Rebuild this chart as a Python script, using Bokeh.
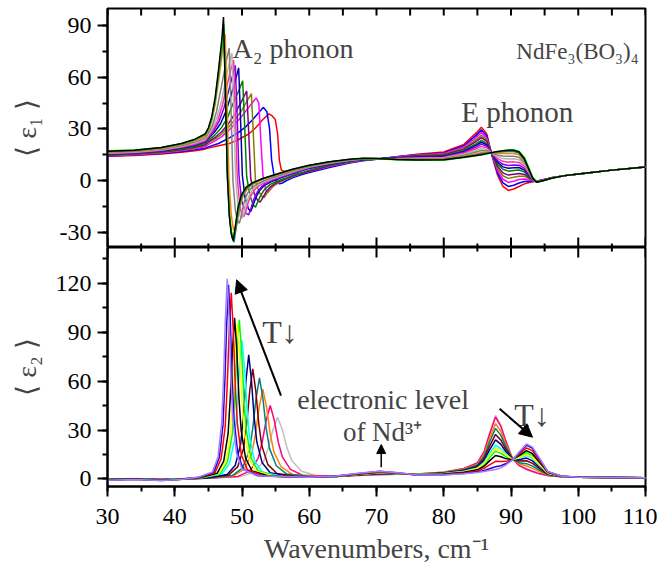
from bokeh.plotting import figure
from bokeh.layouts import column
from bokeh.models import (Range1d, SingleIntervalTicker, Label, Arrow, NormalHead,
                          CustomJSTickFormatter)
from bokeh.embed import file_html
from bokeh.resources import INLINE

FONT = "Liberation Serif"

# ================= axes / ticks =================
X_RANGE = (30, 110)
Y1_RANGE = (-39, 100)
Y2_RANGE = (-4.6, 141.8)
X_TICKS_MAJOR = [30, 40, 50, 60, 70, 80, 90, 100, 110]
X_TICKS_MINOR = [35, 45, 55, 65, 75, 85, 95, 105]

# ================= top panel: <eps1> =================
E1_X_LEFT = [30, 34, 38, 41, 43, 44.5]
E1_X_RIGHT = [60, 63, 66, 68, 70, 73, 76,
              80, 83, 84.8, 85.6, 86.4, 87.2, 88, 88.8, 89.6, 90.4, 91.2, 92, 92.6,
              93.2, 93.8, 94.6, 96, 98, 101, 105, 110]

e1_red_xm = [45.0, 46.5, 48.0, 49.5, 51.0, 52.0, 53.0, 54.0, 54.5, 54.95, 55.3, 55.55, 55.85, 56.3, 57.0, 58.5]
e1_red_y = [14.0, 14.5, 15.4, 16.4, 17.3, 18.2,
            18.8, 20.2, 21.3, 23.8, 27, 30.5, 35, 38.7, 37.5, 35.5, 27, 12, 6, 5.2, 5.8, 7.0,
            8.0, 9.6, 11.0, 11.8, 12.3, 13.8, 15.2,
            16.5, 21, 27.5, 31, 27, 14, 3, -3.5, -5.8, -5, -3.5, -2, -1.3, -0.8, -0.3, 0.3, 1.5, 2.8, 4.2, 6, 7.8]

e1_blue_xm = [45.0, 46.5, 48.0, 49.5, 50.5, 51.5, 52.5, 53.2, 53.7, 54.1, 54.4, 54.8, 55.2, 55.6, 56.0, 56.7, 57.5, 58.7]
e1_blue_y = [14.2, 14.8, 15.7, 16.8, 17.8, 18.8,
             19.5, 21.5, 24.5, 28, 31, 35, 39.5, 42.5, 40, 30, 12, 2, -1.2, -2, -1.5, 0, 1.5, 3.2,
             4.6, 7.5, 10.2, 11.5, 12.3, 13.8, 15.0,
             16.0, 20.2, 26.2, 29.4, 25.9, 14.2, 4.4, -1.4, -3.5, -2.8, -1.5, -0.6, -0.5, -0.6, -0.4, 0.2, 1.5, 2.8, 4.2, 6.0, 7.8]

e1_magenta_xm = [45.0, 46.0, 47.0, 48.0, 49.0, 50.0, 51.0, 51.6, 52.1, 52.5, 52.85, 53.15, 53.55, 53.9, 54.3, 54.8, 55.5, 56.5, 58.0, 59.0]
e1_magenta_y = [14.4, 15.0, 16.0, 17.2, 18.4, 19.6,
                21, 23, 25.5, 29, 33, 37.5, 42.5, 45.5, 48, 45, 20, 1, -5.5, -6.8, -4.8, -2.8, -1.0, 0.8, 3.0, 4.2,
                5.2, 8.1, 10.5, 11.7, 12.4, 13.7, 14.8,
                15.6, 19.5, 24.9, 27.8, 24.7, 14.4, 5.8, 0.7, -1.1, -0.5, 0.5, 0.9, 0.4, -0.3, -0.4, 0.2, 1.5, 2.8, 4.2, 6.0, 7.8]

e1_olive_xm = [45.0, 46.0, 47.0, 48.0, 49.0, 50.0, 50.8, 51.4, 51.65, 52.0, 52.5, 53.0, 53.3, 53.7, 54.2, 54.9, 55.8, 57.0, 58.5]
e1_olive_y = [14.6, 15.2, 16.3, 17.6, 18.9, 20.3,
              22, 24, 27, 31, 35.5, 41, 46.5, 50.5, 30, 0, -6.5, -9.5, -10, -7.5, -4.8, -2.5, -0.6, 1.5, 3.6,
              5.4, 8.4, 10.7, 11.8, 12.4, 13.5, 14.5,
              15.2, 18.8, 23.6, 26.2, 23.6, 14.7, 7.1, 2.7, 1.2, 1.8, 2.5, 2.4, 1.2, -0.1, -0.5, 0.1, 1.4, 2.8, 4.2, 6.0, 7.8]

e1_purple_xm = [45.0, 46.0, 47.0, 48.0, 48.9, 49.8, 50.7, 50.95, 51.3, 51.8, 52.3, 52.7, 53.1, 53.6, 54.2, 55.0, 56.0, 57.3, 58.5]
e1_purple_y = [14.8, 15.4, 16.5, 17.9, 19.3, 20.7,
               22.5, 25, 28.5, 33, 38.5, 45, 52, 32, 1, -7.5, -11.5, -12.6, -10, -6.5, -3.7, -1.5, 0.3, 2.2, 3.8,
               5.4, 8.6, 10.9, 11.9, 12.5, 13.4, 14.3,
               14.8, 18.2, 22.6, 24.9, 22.7, 14.8, 8.2, 4.4, 3.1, 3.6, 4.1, 3.5, 1.9, 0.1, -0.6, 0.1, 1.4, 2.8, 4.2, 6.0, 7.8]

e1_green_xm = [45.0, 46.0, 47.0, 47.9, 48.7, 49.5, 50.1, 50.35, 50.7, 51.2, 51.7, 52.0, 52.4, 52.8, 53.4, 54.2, 55.3, 56.6, 58.0, 59.2]
e1_green_y = [15.0, 15.6, 16.8, 18.3, 19.8, 21.4,
              23.5, 26.5, 31, 37, 45, 52, 58, 36, 2, -9, -14.5, -15.5, -12, -8.5, -5, -2.3, -0.3, 1.5, 3.6, 5.0,
              6.0, 9.0, 11.1, 12.0, 12.5, 13.2, 14.0,
              14.3, 17.4, 21.3, 23.3, 21.5, 15.1, 9.6, 6.5, 5.4, 5.8, 6.1, 5.0, 2.7, 0.3, -0.6, 0.0, 1.4, 2.8, 4.2, 6.0, 7.8]

e1_navy_xm = [45.0, 45.9, 46.8, 47.6, 48.4, 49.0, 49.5, 49.75, 50.05, 50.45, 50.95, 51.3, 51.65, 52.05, 52.6, 53.3, 54.3, 55.6, 57.2, 58.7]
e1_navy_y = [15.3, 15.9, 17.1, 18.8, 20.4, 22.2,
             24.5, 28, 33, 40, 50, 58, 65.5, 40, 3, -10, -16.5, -18, -14.5, -10, -6, -3, -0.8, 1.2, 3.4, 5.4,
             7.0, 9.5, 11.4, 12.2, 12.6, 13.0, 13.6,
             14.0, 16.9, 20.4, 22.2, 20.7, 15.2, 10.6, 7.9, 7.1, 7.4, 7.5, 6.0, 3.3, 0.5, -0.7, 0.0, 1.4, 2.8, 4.2, 6.0, 7.8]

e1_violet_xm = [45.0, 45.8, 46.6, 47.3, 48.0, 48.6, 49.0, 49.25, 49.55, 49.95, 50.55, 51.0, 51.35, 51.75, 52.3, 53.0, 54.0, 55.3, 57.0, 58.5]
e1_violet_y = [15.5, 16.1, 17.3, 19.1, 20.8, 22.7,
               25, 29, 34.5, 42, 52, 61, 67, 42, 3, -12, -19, -20, -16, -11, -6.5, -3.2, -0.8, 1.2, 3.5, 5.5,
               7.2, 9.7, 11.5, 12.3, 12.6, 12.9, 13.4,
               13.7, 16.4, 19.4, 21.1, 19.9, 15.4, 11.6, 9.4, 8.7, 9.0, 8.9, 7.0, 3.9, 0.6, -0.7, -0.1, 1.4, 2.8, 4.2, 6.0, 7.8]

e1_pink_xm = [45.0, 45.7, 46.4, 47.1, 47.7, 48.3, 48.75, 49.0, 49.3, 49.65, 49.95, 50.3, 50.6, 51.0, 51.5, 52.2, 53.2, 54.7, 56.5, 58.3]
e1_pink_y = [15.7, 16.3, 17.6, 19.4, 21.2, 23.1,
             25.5, 29.5, 35, 44, 54, 64, 70, 42, 2, -14, -19.5, -21, -17.5, -12, -7.5, -4, -1.5, 1.0, 3.3, 5.8,
             7.6, 10.0, 11.7, 12.4, 12.6, 12.7, 13.1,
             13.4, 15.8, 18.4, 19.8, 19.0, 15.5, 12.7, 11.1, 10.6, 10.8, 10.5, 8.2, 4.5, 0.8, -0.8, -0.1, 1.4, 2.8, 4.2, 6.0, 7.8]

e1_silver_xm = [45.0, 45.6, 46.3, 47.0, 47.6, 48.1, 48.5, 48.75, 49.05, 49.4, 49.7, 50.0, 50.3, 50.7, 51.2, 51.9, 52.9, 54.4, 56.3, 58.2]
e1_silver_y = [16.0, 16.6, 17.9, 19.8, 21.8, 23.9,
               26.5, 30.5, 37, 47, 59, 68, 74, 45, 2, -15, -20.5, -22, -18.5, -12.5, -7.5, -4, -1.5, 1.0, 3.4, 5.9,
               7.9, 10.2, 11.8, 12.5, 12.6, 12.5, 12.8,
               13.0, 15.2, 17.4, 18.5, 18.1, 15.7, 13.8, 12.7, 12.5, 12.6, 12.1, 9.3, 5.2, 1.0, -0.8, -0.2, 1.3, 2.8, 4.2, 6.0, 7.8]

e1_gray_xm = [45.0, 45.6, 46.2, 46.8, 47.4, 47.8, 48.1, 48.35, 48.65, 49.0, 49.3, 49.6, 49.9, 50.3, 50.8, 51.5, 52.5, 54.0, 56.0, 58.0]
e1_gray_y = [16.2, 16.8, 18.2, 20.2, 22.3, 24.6,
             27.5, 32, 40, 52, 64, 72, 77, 45, 0, -17, -23, -25, -20.5, -13, -7.5, -4, -1.6, 1.0, 3.5, 6.0,
             8.1, 10.4, 11.9, 12.6, 12.6, 12.4, 12.5,
             12.7, 14.6, 16.5, 17.4, 17.3, 15.9, 14.7, 14.2, 14.1, 14.1, 13.5, 10.3, 5.8, 1.2, -0.9, -0.2, 1.3, 2.8, 4.2, 6.0, 7.8]

e1_orange_xm = [45.0, 45.5, 46.0, 46.5, 47.0, 47.5, 47.75, 48.05, 48.4, 48.7, 49.0, 49.3, 49.7, 50.2, 50.9, 51.8, 53.2, 55.2, 57.6]
e1_orange_y = [16.5, 17.1, 18.6, 20.8, 23.0, 25.7,
               29, 34.5, 44, 57, 72, 85, 50, 2, -20, -28, -30, -24, -15, -8.5, -4.5, -1.8, 0.8, 3.3, 6.2,
               8.6, 10.7, 12.1, 12.7, 12.7, 12.3, 12.2,
               12.4, 14.1, 15.5, 16.3, 16.5, 16.0, 15.7, 15.6, 15.7, 15.7, 14.9, 11.3, 6.3, 1.3, -0.9, -0.3, 1.3, 2.8, 4.2, 6.0, 7.8]

e1_teal_xm = [45.0, 45.5, 46.0, 46.5, 47.0, 47.3, 47.55, 47.85, 48.2, 48.5, 48.8, 49.1, 49.5, 50.0, 50.7, 51.6, 53.0, 55.0, 57.5]
e1_teal_y = [16.8, 17.4, 19.0, 21.2, 23.6, 26.5,
             30, 36, 46, 61, 77, 88, 50, 0, -24, -33, -36, -28, -17, -9, -4.5, -1.7, 0.9, 3.4, 6.3,
             8.7, 10.8, 12.2, 12.8, 12.7, 12.2, 12.0,
             12.1, 13.7, 14.9, 15.5, 15.9, 16.1, 16.4, 16.7, 16.9, 16.8, 15.9, 12.1, 6.8, 1.4, -1.0, -0.3, 1.3, 2.8, 4.2, 6.0, 7.8]

e1_lime_xm = [45.0, 45.5, 46.0, 46.5, 47.0, 47.3, 47.55, 47.85, 48.15, 48.45, 48.75, 49.05, 49.45, 49.95, 50.6, 51.5, 53.0, 55.0, 57.5]
e1_lime_y = [17.2, 17.7, 19.1, 21.3, 23.7, 26.7,
             30, 36, 46.5, 62, 79, 91, 52, 3, -20, -30, -33, -26, -15.5, -8.5, -4.2, -1.6, 1.0, 3.5, 6.4,
             8.7, 10.8, 12.2, 12.7, 12.6, 12.1, 11.8,
             11.8, 13.3, 14.3, 14.9, 15.5, 16.1, 16.7, 17.3, 17.7, 17.8, 17.0, 13.5, 8.0, 2.2, -0.8, -0.4, 1.3, 2.8, 4.2, 6.0, 7.8]

e1_black_xm = [45.0, 45.5, 46.0, 46.5, 47.0, 47.25, 47.5, 47.8, 48.1, 48.4, 48.7, 49.0, 49.4, 49.9, 50.6, 51.5, 53.0, 55.0, 57.5]
e1_black_y = [17.0, 17.6, 19.2, 21.5, 24.0, 27.0,
              30.5, 37, 48, 64, 82, 95, 55, 5, -20, -31, -35, -27, -16, -8.5, -4, -1.5, 1.0, 3.5, 6.5,
              8.8, 10.9, 12.3, 12.9, 12.7, 12.2, 11.9,
              12, 13.5, 14.5, 15, 15.6, 16.2, 16.8, 17.3, 17.6, 17.5, 16.5, 12.5, 7, 1.5, -1, -0.3, 1.3, 2.8, 4.2, 6, 7.8]

E1_CURVES = [
    ("#ff0000", e1_red_xm, e1_red_y),
    ("#0000ff", e1_blue_xm, e1_blue_y),
    ("#ff00ff", e1_magenta_xm, e1_magenta_y),
    ("#808000", e1_olive_xm, e1_olive_y),
    ("#800080", e1_purple_xm, e1_purple_y),
    ("#008000", e1_green_xm, e1_green_y),
    ("#0000a0", e1_navy_xm, e1_navy_y),
    ("#8000ff", e1_violet_xm, e1_violet_y),
    ("#ff3399", e1_pink_xm, e1_pink_y),
    ("#b4b4b4", e1_silver_xm, e1_silver_y),
    ("#808080", e1_gray_xm, e1_gray_y),
    ("#ff8000", e1_orange_xm, e1_orange_y),
    ("#008080", e1_teal_xm, e1_teal_y),
    ("#00ee00", e1_lime_xm, e1_lime_y),
    ("#000000", e1_black_xm, e1_black_y),
]

# ================= bottom panel: <eps2> =================
E2_X_LEFT = [30, 34, 38, 41]
E2_X_RIGHT = [67, 70.5, 73.5, 76, 80, 83, 85, 86, 86.8, 87.7, 88.5, 89.2, 90.2, 91.2,
              92.3, 93.2, 94.2, 95.5, 97.5, 100, 110]

e2_gray_xm = [44.1, 49.7, 51.8, 53.2, 53.9, 54.6, 55.3, 56.0, 56.7, 57.4, 58.8, 60.9, 66.5]
e2_gray_y = [-0.1, 0.3, -0.1, 0.2,
             0.3, 1.3, 4.2, 10.6, 18.9, 30.2, 37.8, 30.2, 18.9, 11.3, 4.9, 2.1, 2.0,
             2.1, 2.6, 2.9,
             3.0, 4.3, 6.5, 10.0, 17.0, 28.0, 38.9, 33.0, 24.0, 12.5, 8.0, 5.6, 4.2, 3.0, 2.0, 1.3, 1.0, 0.8]

e2_pink_xm = [44.6, 49.4, 51.2, 52.4, 53.0, 53.6, 54.2, 54.8, 55.4, 56.0, 57.2, 59.0, 63.8]
e2_pink_y = [-0.2, 0.2, -0.2, 0.2,
             0.4, 1.6, 5.0, 12.6, 22.5, 36, 45, 36, 22.5, 13.5, 5.9, 2.3, 1.7,
             2.2, 2.8, 2.9,
             3.0, 4.2, 6.4, 9.8, 16.6, 27.3, 37.9, 32.2, 23.5, 12.5, 8.3, 6.1, 4.7, 3.3, 2.1, 1.3, 1.0, 0.8]

e2_orange_xm = [44.3, 48.7, 50.35, 51.45, 52.0, 52.55, 53.1, 53.65, 54.2, 54.75, 55.85, 57.5, 61.9, 64]
e2_orange_y = [-0.2, 0.2, -0.3, 0.1,
               0.4, 1.9, 6.1, 15.4, 27.5, 44, 55, 44, 27.5, 16.5, 7.2, 2.8, 1.4, 1.6,
               2.3, 3.0, 2.9,
               2.9, 4.0, 6.0, 9.1, 15.1, 24.6, 33.9, 29.1, 21.7, 12.4, 9.3, 8.0, 6.5, 4.5, 2.4, 1.4, 1.0, 0.8]

e2_teal_xm = [44.6, 48.6, 50.1, 51.1, 51.6, 52.1, 52.6, 53.1, 53.6, 54.1, 55.1, 56.6, 60.6, 64]
e2_teal_y = [-0.3, 0.1, -0.3, 0.1,
             0.5, 2.2, 6.8, 17.4, 31, 49.6, 62, 49.6, 31, 18.6, 8.1, 3.1, 1.3, 1.6,
             2.4, 3.1, 3.0,
             2.9, 3.9, 5.7, 8.6, 14.0, 22.5, 31.0, 26.7, 20.3, 12.3, 10.0, 9.4, 7.9, 5.4, 2.6, 1.4, 1.0, 0.8]

e2_maroon_xm = [44.4, 48.0, 49.35, 50.25, 50.7, 51.15, 51.6, 52.05, 52.5, 52.95, 53.85, 55.2, 58.8, 64]
e2_maroon_y = [-0.3, 0.1, -0.4, 0.1,
               0.5, 2.4, 7.4, 18.9, 33.8, 54, 67.5, 54, 33.8, 20.3, 8.8, 3.4, 1.2, 1.6,
               2.5, 3.3, 3.0,
               2.8, 3.7, 5.3, 7.9, 12.7, 20.0, 27.3, 23.8, 18.6, 12.2, 11.0, 11.2, 9.6, 6.5, 2.9, 1.5, 1.0, 0.8]

e2_navy_xm = [44.6, 47.8, 49.0, 49.8, 50.2, 50.6, 51.0, 51.4, 51.8, 52.2, 53.0, 54.2, 57.4, 60, 64]
e2_navy_y = [-0.4, 0.0, -0.5, 0.0,
             0.6, 2.7, 8.4, 21.3, 38, 60.8, 76, 60.8, 38, 22.8, 9.9, 3.8, 1.3, 1.1, 1.6,
             2.6, 3.5, 3.1,
             2.8, 3.5, 5.0, 7.3, 11.4, 17.7, 24.0, 21.2, 17.0, 12.1, 11.8, 12.8, 11.1, 7.5, 3.1, 1.5, 1.0, 0.8]

e2_cyan_xm = [44.0, 47.0, 48.13, 48.88, 49.25, 49.63, 50.0, 50.38, 50.75, 51.13, 51.88, 53.0, 56.0, 60, 64]
e2_cyan_y = [-0.5, -0.1, -0.5, 0.0,
             0.7, 3.0, 9.4, 23.8, 42.5, 68, 85, 68, 42.5, 25.5, 11.1, 4.3, 1.5, 1.1, 1.6,
             2.7, 3.7, 3.1,
             2.7, 3.3, 4.7, 6.7, 10.2, 15.5, 20.7, 18.6, 15.5, 12.0, 12.7, 14.3, 12.6, 8.5, 3.4, 1.6, 1.0, 0.8]

e2_green_xm = [44.0, 46.8, 47.85, 48.55, 48.9, 49.25, 49.6, 49.95, 50.3, 50.65, 51.35, 52.4, 55.2, 60, 64]
e2_green_y = [-0.4, 0.0, -0.6, 0.0,
              0.8, 3.4, 10.7, 27.3, 48.8, 78, 97.5, 78, 48.8, 29.3, 12.7, 4.9, 1.7, 1.1, 1.7,
              2.8, 3.9, 3.2,
              2.7, 3.1, 4.3, 6.0, 8.8, 13.0, 17.1, 15.7, 13.8, 11.8, 13.6, 16.1, 14.3, 9.6, 3.7, 1.6, 1.0, 0.8]

e2_yellow_xm = [43.7, 46.5, 47.55, 48.25, 48.6, 48.95, 49.3, 49.65, 50.0, 50.35, 51.05, 52.1, 54.9, 60, 64]
e2_yellow_y = [-0.6, -0.2, -0.6, -0.1,
               0.8, 3.3, 10.5, 26.6, 47.5, 76, 95, 76, 47.5, 28.5, 12.4, 4.8, 1.6, 1.1, 1.7,
               2.8, 3.9, 3.2,
               2.7, 3.2, 4.5, 6.4, 9.6, 14.3, 19.0, 17.3, 14.7, 11.9, 13.1, 15.1, 13.4, 9.0, 3.5, 1.6, 1.0, 0.8]

e2_black_xm = [43.7, 46.3, 47.28, 47.93, 48.25, 48.58, 48.9, 49.23, 49.55, 49.88, 50.53, 51.5, 54.1, 60, 64]
e2_black_y = [-0.5, 0.0, -0.7, -0.1,
              0.8, 3.5, 10.9, 27.6, 49.4, 79, 98.7, 79, 49.4, 29.6, 12.8, 4.9, 1.7, 1.0, 1.7,
              2.9, 4.1, 3.3,
              2.6, 3.0, 4.1, 5.6, 7.8, 11.1, 14.4, 13.6, 12.5, 11.8, 14.3, 17.4, 15.5, 10.4, 3.9, 1.7, 1.0, 0.8]

e2_red_xm = [43.6, 46.0, 46.9, 47.5, 47.8, 48.1, 48.4, 48.7, 49.0, 49.3, 49.9, 50.8, 53.2, 60, 64]
e2_red_y = [-0.6, -0.1, -0.8, -0.2,
            0.9, 4.0, 12.5, 31.9, 57, 91.2, 114, 91.2, 57, 34.2, 14.8, 5.7, 1.9, 1.0, 1.7,
            3.0, 4.3, 3.4,
            2.6, 2.8, 3.7, 4.9, 6.5, 8.6, 10.8, 10.7, 10.8, 11.7, 15.2, 19.1, 17.2, 11.5, 4.1, 1.7, 1.0, 0.8]

e2_indigo_xm = [43.6, 45.8, 46.63, 47.18, 47.45, 47.73, 48.0, 48.28, 48.55, 48.83, 49.38, 50.2, 52.4, 60, 64]
e2_indigo_y = [-0.7, -0.2, -0.9, -0.2,
               1.0, 4.2, 13.1, 33.3, 59.5, 95.2, 119, 95.2, 59.5, 35.7, 15.5, 6.0, 2.0, 1.0, 1.8,
               3.2, 4.7, 3.6,
               2.5, 2.6, 3.4, 4.3, 5.2, 6.3, 7.5, 8.1, 9.3, 11.6, 16.1, 20.7, 18.7, 12.5, 4.4, 1.8, 1.1, 0.8]

e2_lav_xm = [43.4, 45.6, 46.43, 46.98, 47.25, 47.53, 47.8, 48.08, 48.35, 48.63, 49.18, 50.0, 52.2, 60, 64]
e2_lav_y = [-0.8, -0.3, -1.0, -0.3,
            1.0, 4.3, 13.5, 34.3, 61.3, 98.1, 122.6, 98.1, 61.3, 36.8, 15.9, 6.1, 2.0, 1.0, 1.8,
            3.3, 4.8, 3.7,
            2.5, 2.5, 3.2, 4.0, 4.6, 5.2, 5.8, 6.8, 8.5, 11.5, 16.5, 21.5, 19.5, 13.0, 4.5, 1.8, 1.1, 0.8]

E2_CURVES = [
    ("#c0c0c0", e2_gray_xm, e2_gray_y),
    ("#ff0080", e2_pink_xm, e2_pink_y),
    ("#ff8000", e2_orange_xm, e2_orange_y),
    ("#008080", e2_teal_xm, e2_teal_y),
    ("#800000", e2_maroon_xm, e2_maroon_y),
    ("#000080", e2_navy_xm, e2_navy_y),
    ("#00ffff", e2_cyan_xm, e2_cyan_y),
    ("#00ff00", e2_green_xm, e2_green_y),
    ("#ffff00", e2_yellow_xm, e2_yellow_y),
    ("#000000", e2_black_xm, e2_black_y),
    ("#ff0000", e2_red_xm, e2_red_y),
    ("#3300cc", e2_indigo_xm, e2_indigo_y),
    ("#a080ff", e2_lav_xm, e2_lav_y),
]

# ================= figures =================
FRAME_W, FRAME_H = 538, 239
xr = Range1d(*X_RANGE)
PLAIN = CustomJSTickFormatter(code="return tick.toFixed(0)")


def make_fig(yr, top_border):
    p = figure(frame_width=FRAME_W, frame_height=FRAME_H, x_range=xr, y_range=Range1d(*yr),
               output_backend="svg", toolbar_location=None,
               min_border_left=107, min_border_right=12, min_border_top=top_border, min_border_bottom=0)
    p.grid.visible = False
    p.outline_line_color = "black"
    p.outline_line_width = 2
    p.background_fill_color = "white"
    p.border_fill_color = "white"
    return p


def style_left(ax, label, standoff):
    ax.ticker = SingleIntervalTicker(interval=30, num_minor_ticks=2)
    ax.formatter = PLAIN
    ax.major_tick_in = 0
    ax.major_tick_out = 10
    ax.minor_tick_in = 0
    ax.minor_tick_out = 5
    ax.axis_line_width = 2
    ax.major_tick_line_width = 2
    ax.minor_tick_line_width = 2
    ax.major_label_text_font = FONT
    ax.major_label_text_font_size = "24px"
    ax.major_label_text_color = "black"
    ax.major_label_standoff = 6
    ax.axis_label = label
    ax.axis_label_text_font = FONT
    ax.axis_label_text_font_size = "28px"
    ax.axis_label_text_font_style = "normal"
    ax.axis_label_standoff = standoff


def yspan(yr, px):
    return px * (yr[1] - yr[0]) / FRAME_H


# ---- top panel
p1 = make_fig(Y1_RANGE, 8)
p1.xaxis.visible = False
style_left(p1.yaxis[0], "⟨ ε₁ ⟩", 15)

for color, xm, y in E1_CURVES:
    x = E1_X_LEFT + xm + E1_X_RIGHT
    assert len(x) == len(y), (color, len(x), len(y))
    p1.line(x, y, line_color=color, line_width=1.5)

# tick marks on the top edge (inward) and on the shared edge (upwards)
all_x = sorted(X_TICKS_MAJOR + X_TICKS_MINOR)
y_top1 = Y1_RANGE[1]
p1.segment(x0=all_x, y0=[y_top1] * len(all_x), x1=all_x,
           y1=[y_top1 - yspan(Y1_RANGE, 7)] * len(all_x), line_color="black", line_width=2)
y_bot1 = Y1_RANGE[0]
p1.segment(x0=X_TICKS_MAJOR, y0=[y_bot1] * len(X_TICKS_MAJOR), x1=X_TICKS_MAJOR,
           y1=[y_bot1 + yspan(Y1_RANGE, 10)] * len(X_TICKS_MAJOR), line_color="black", line_width=2)
p1.segment(x0=X_TICKS_MINOR, y0=[y_bot1] * len(X_TICKS_MINOR), x1=X_TICKS_MINOR,
           y1=[y_bot1 + yspan(Y1_RANGE, 4)] * len(X_TICKS_MINOR), line_color="black", line_width=2)

p1.add_layout(Label(x=48.6, y=76.5, text="A₂ phonon", text_font=FONT, text_font_size="28px",
                    text_baseline="alphabetic"))
p1.add_layout(Label(x=109.0, y=75.0, text="NdFe₃(BO₃)₄", text_font=FONT, text_font_size="23px",
                    text_align="right", text_baseline="alphabetic"))
p1.add_layout(Label(x=82.6, y=39.7, text="E phonon", text_font=FONT, text_font_size="29px",
                    text_baseline="alphabetic"))

# ---- bottom panel
p2 = make_fig(Y2_RANGE, 0)
bx = p2.xaxis[0]
bx.ticker = SingleIntervalTicker(interval=10, num_minor_ticks=2)
bx.formatter = PLAIN
bx.major_tick_in = 0
bx.major_tick_out = 10
bx.minor_tick_in = 0
bx.minor_tick_out = 5
bx.axis_line_width = 2
bx.major_tick_line_width = 2
bx.minor_tick_line_width = 2
bx.major_label_text_font = FONT
bx.major_label_text_font_size = "24px"
bx.major_label_text_color = "black"
bx.major_label_standoff = 12
bx.axis_label = "Wavenumbers, cm⁻¹"
bx.axis_label_text_font = FONT
bx.axis_label_text_font_size = "28px"
bx.axis_label_text_font_style = "normal"
bx.axis_label_standoff = 6
style_left(p2.yaxis[0], "⟨ ε₂ ⟩", 11)

for color, xm, y in E2_CURVES:
    x = E2_X_LEFT + xm + E2_X_RIGHT
    assert len(x) == len(y), (color, len(x), len(y))
    p2.line(x, y, line_color=color, line_width=1.5)

y_top2 = Y2_RANGE[1]
p2.segment(x0=X_TICKS_MAJOR, y0=[y_top2] * len(X_TICKS_MAJOR), x1=X_TICKS_MAJOR,
           y1=[y_top2 - yspan(Y2_RANGE, 10)] * len(X_TICKS_MAJOR), line_color="black", line_width=2)
p2.segment(x0=X_TICKS_MINOR, y0=[y_top2] * len(X_TICKS_MINOR), x1=X_TICKS_MINOR,
           y1=[y_top2 - yspan(Y2_RANGE, 4)] * len(X_TICKS_MINOR), line_color="black", line_width=2)

p2.add_layout(Arrow(end=NormalHead(size=13, fill_color="black", line_color="black"),
                    x_start=55.8, y_start=51.1, x_end=49.2, y_end=122, line_width=2))
p2.add_layout(Label(x=53.0, y=90.3, text="T↓", text_font=FONT, text_font_size="32px",
                    text_baseline="alphabetic"))
p2.add_layout(Label(x=58.2, y=48.7, text="electronic level", text_font=FONT, text_font_size="28px",
                    text_baseline="alphabetic"))
p2.add_layout(Label(x=65.0, y=29.0, text="of Nd³⁺", text_font=FONT, text_font_size="27px",
                    text_baseline="alphabetic"))
p2.add_layout(Arrow(end=NormalHead(size=9, fill_color="black", line_color="black"),
                    x_start=70.7, y_start=7.2, x_end=70.7, y_end=21.1, line_width=1.5))
p2.add_layout(Label(x=90.5, y=38.9, text="T↓", text_font=FONT, text_font_size="32px",
                    text_baseline="alphabetic"))
p2.add_layout(Arrow(end=NormalHead(size=13, fill_color="black", line_color="black"),
                    x_start=88.3, y_start=43, x_end=93.2, y_end=25.6, line_width=2))

layout = column(p1, p2, spacing=0)
open("out.html", "w").write(file_html(layout, INLINE))
